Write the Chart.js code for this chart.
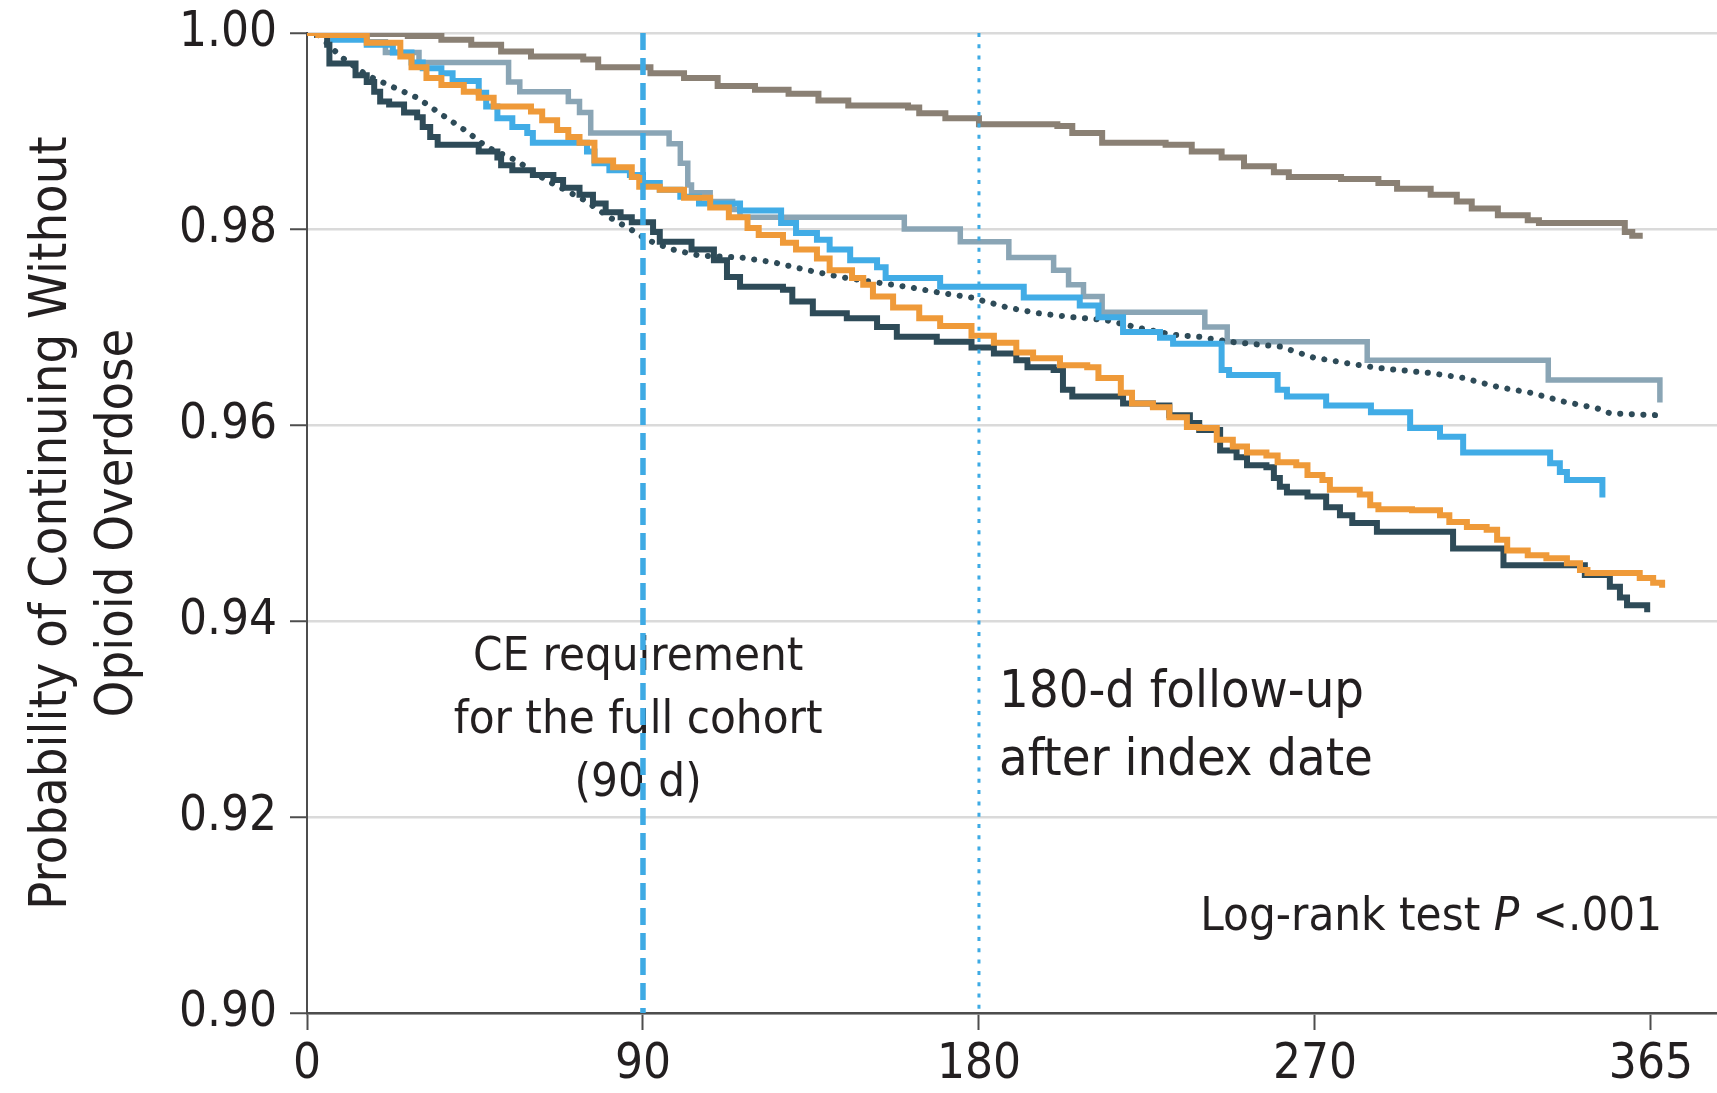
<!DOCTYPE html>
<html>
<head>
<meta charset="utf-8">
<script src="https://cdn.jsdelivr.net/npm/chart.js@4.4.1/dist/chart.umd.min.js"></script>
<style>
html,body{margin:0;padding:0;background:#ffffff;}
#wrap{width:1717px;height:1093px;}
</style>
</head>
<body>
<div id="wrap"><canvas id="c" width="1717" height="1093"></canvas></div>
<script>
// ---------------- data ----------------
const xTickDays   = [0, 90, 180, 270, 360];
const xTickLabels = ['0', '90', '180', '270', '365'];
const yTickValues = [0.90, 0.92, 0.94, 0.96, 0.98, 1.00];
const refLineDays = [90, 180];

const yTitleLines = ['Probability of Continuing Without', 'Opioid Overdose'];
const ceNoteLines = ['CE requirement', 'for the full cohort', '(90 d)'];
const fuNoteLines = ['180-d follow-up', 'after index date'];
const testNote    = ['Log-rank test ', 'P', ' <.001'];

const brownDays = [0, 14, 27, 36, 44, 52, 60, 74, 78, 92, 101, 110, 120, 129, 137, 145, 161, 164, 171, 180, 201, 205, 213, 230, 237, 245, 251, 259, 263, 277, 287, 292, 301, 308, 312, 319, 327, 330, 353, 355, 357];
const brownVals = [1.0, 0.9999, 0.9997, 0.9993, 0.9988, 0.9981, 0.9976, 0.9973, 0.9965, 0.9959, 0.9954, 0.9946, 0.9942, 0.9938, 0.9931, 0.9926, 0.9924, 0.9918, 0.9913, 0.9907, 0.9905, 0.9898, 0.9888, 0.9886, 0.9879, 0.9873, 0.9864, 0.9858, 0.9853, 0.9851, 0.9847, 0.9841, 0.9835, 0.9828, 0.9821, 0.9814, 0.9809, 0.9806, 0.9797, 0.9793, 0.9790];

const steelDays = [0, 16, 21, 30, 54, 57, 70, 73, 76, 97, 100, 102, 103, 108, 114, 116, 160, 175, 188, 200, 204, 208, 213, 240.5, 246.5, 284, 332.5, 362.4];
const steelVals = [1.0, 0.9991, 0.998, 0.997, 0.995, 0.994, 0.993, 0.9919, 0.9898, 0.9887, 0.9867, 0.9845, 0.9837, 0.9828, 0.982, 0.9812, 0.98, 0.9787, 0.9771, 0.9758, 0.9743, 0.9731, 0.9715, 0.970, 0.9685, 0.9666, 0.9646, 0.9623];

const blueDays = [0, 7, 16, 23, 28, 31, 36, 39, 46, 48, 51, 55, 59, 60.5, 75, 77, 81, 86.5, 90, 94.5, 100, 105, 116, 127, 131, 136.6, 140, 145.5, 152.7, 155, 169.6, 192, 207, 212, 218.6, 228.5, 232, 245, 247, 260, 262.5, 273, 285, 295.5, 303.5, 309.7, 333, 335.6, 337.5, 347];
const blueVals = [1.0, 0.9993, 0.9988, 0.998, 0.997, 0.9964, 0.9959, 0.9951, 0.9939, 0.9925, 0.9913, 0.9904, 0.9898, 0.9888, 0.9879, 0.9867, 0.986, 0.9855, 0.9847, 0.984, 0.9833, 0.9826, 0.9819, 0.9806, 0.9796, 0.9789, 0.9779, 0.9768, 0.9761, 0.975, 0.9741, 0.973, 0.9722, 0.971, 0.9695, 0.9689, 0.9683, 0.9656, 0.9651, 0.9636, 0.9629, 0.962, 0.9613, 0.9597, 0.9588, 0.9572, 0.9561, 0.9552, 0.9544, 0.9526];

const orangeDays = [0, 3, 16, 25, 28, 32, 36, 42, 46, 50, 60, 63, 67, 70, 73, 77, 82, 87, 89, 94.5, 101, 108, 113, 118, 121, 127.5, 131, 136.6, 140, 146, 149, 151.6, 157, 164, 169.6, 178, 184, 190, 194.5, 201.7, 209, 212, 218, 221, 226.6, 231, 235.7, 239, 243.7, 248, 251.8, 257, 260, 265, 268, 272, 274, 282, 284.8, 287, 296, 303.5, 306, 310.7, 316, 318.8, 321.5, 327, 332, 337.5, 341, 343, 357, 360.6, 363];
const orangeVals = [1.0, 0.9998, 0.999, 0.9976, 0.9965, 0.9954, 0.9947, 0.994, 0.9934, 0.9925, 0.992, 0.9911, 0.9901, 0.9894, 0.9888, 0.987, 0.9863, 0.9853, 0.9843, 0.984, 0.9832, 0.9822, 0.9812, 0.9801, 0.9794, 0.9786, 0.9779, 0.977, 0.9758, 0.975, 0.9743, 0.9731, 0.972, 0.9709, 0.9701, 0.9691, 0.9684, 0.9674, 0.9668, 0.9661, 0.9659, 0.9648, 0.9633, 0.9622, 0.9618, 0.9608, 0.9598, 0.9597, 0.9585, 0.9578, 0.9572, 0.9569, 0.9562, 0.9559, 0.9549, 0.9544, 0.9534, 0.9529, 0.9518, 0.9514, 0.9513, 0.9508, 0.9501, 0.9496, 0.9493, 0.9483, 0.9472, 0.9467, 0.9464, 0.9459, 0.9452, 0.9449, 0.9444, 0.9439, 0.9434];

const slateDays = [0, 2.7, 5.4, 6, 13, 16, 18, 19.6, 22, 26, 29.5, 31, 33, 35, 46, 51, 52, 55, 60.5, 66, 68.6, 73, 76.6, 80, 84, 87, 92.7, 94.5, 103, 109, 112.5, 116, 127.5, 130, 135.5, 144.6, 152.7, 158, 168.7, 178, 184, 190, 193, 200, 202.5, 205, 218.6, 226.6, 231, 236.5, 239, 244.6, 249, 251.8, 257, 259, 260.6, 262.5, 268, 273, 276.7, 280, 286.6, 307, 320.5, 342.3, 349, 351.7, 353.6, 359];
const slateVals = [1.0, 0.9998, 0.9988, 0.9969, 0.9957, 0.995, 0.994, 0.993, 0.9927, 0.9919, 0.9914, 0.9904, 0.9894, 0.9886, 0.9879, 0.9873, 0.9865, 0.986, 0.9855, 0.985, 0.9842, 0.9835, 0.9826, 0.9817, 0.9812, 0.9807, 0.9797, 0.9787, 0.9779, 0.9768, 0.9751, 0.9741, 0.9738, 0.9726, 0.9714, 0.9709, 0.97, 0.969, 0.9685, 0.9679, 0.9673, 0.9666, 0.9659, 0.9656, 0.9636, 0.9629, 0.9622, 0.962, 0.961, 0.9602, 0.9595, 0.9574, 0.9567, 0.9559, 0.9557, 0.9546, 0.9537, 0.9531, 0.9527, 0.9516, 0.9508, 0.95, 0.9491, 0.9474, 0.9457, 0.9447, 0.9435, 0.9424, 0.9416, 0.9409];

const dottedDays = [0, 3, 9, 16, 23, 29.5, 35.6, 43, 48, 56, 64, 74, 81, 87, 91, 98, 105, 116, 125, 134, 143, 151.6, 160.7, 169.6, 178, 187.5, 196, 205, 214, 223, 232, 239, 247, 260.6, 269.5, 278.6, 287.4, 301, 309.7, 318.8, 327.6, 336.5, 345.6, 349, 361.6];
const dottedVals = [1.0, 0.9998, 0.9976, 0.9957, 0.9945, 0.9934, 0.9918, 0.9899, 0.9884, 0.987, 0.985, 0.983, 0.9812, 0.9799, 0.9789, 0.9779, 0.9773, 0.9771, 0.9766, 0.9758, 0.9751, 0.9746, 0.9741, 0.9735, 0.973, 0.972, 0.9714, 0.971, 0.9707, 0.9699, 0.9692, 0.969, 0.9685, 0.968, 0.9669, 0.9663, 0.9658, 0.9653, 0.9648, 0.9639, 0.9633, 0.9624, 0.9617, 0.9612, 0.961];

// ---------------- styling ----------------
const FONT = "'DejaVu Sans Condensed', 'Liberation Sans Narrow', 'DejaVu Sans', sans-serif";
const TEXT = '#231f20';
const AXIS = '#4d4d4d';

function pts(days, vals) { return days.map((d, i) => ({x: d, y: vals[i]})); }
function stepSet(days, vals, color, width) {
  return { data: pts(days, vals), borderColor: color, borderWidth: width, stepped: 'before',
           pointRadius: 0, fill: false, borderJoinStyle: 'miter', borderCapStyle: 'butt' };
}

const datasets = [
  stepSet(orangeDays, orangeVals, '#ef9a39', 6),
  stepSet(slateDays, slateVals, '#2e4b58', 6),
  stepSet(blueDays, blueVals, '#41ace6', 6),
  { data: pts(dottedDays, dottedVals), borderColor: '#2e4b58', borderWidth: 6, borderDash: [0.1, 11.5],
    borderCapStyle: 'round', pointRadius: 0, fill: false, tension: 0 },
  stepSet(steelDays, steelVals, '#8aa5b5', 5.5),
  stepSet(brownDays, brownVals, '#8a8074', 6)
];

const notesPlugin = {
  id: 'notes',
  afterDatasetsDraw(chart) {
    const {ctx, chartArea, scales: {x, y}} = chart;
    ctx.save();
    ctx.fillStyle = TEXT;
    ctx.textBaseline = 'alphabetic';
    ctx.font = "47px " + FONT;
    ctx.textAlign = 'center';
    const ceX = x.getPixelForValue(88.7);
    const ceBase = [0.9350, 0.92857, 0.92214];
    ceNoteLines.forEach((t, i) => ctx.fillText(t, ceX, y.getPixelForValue(ceBase[i])));
    ctx.font = "52px " + FONT;
    ctx.textAlign = 'left';
    const fuX = x.getPixelForValue(185.4);
    const fuBase = [0.93122, 0.92429];
    fuNoteLines.forEach((t, i) => ctx.fillText(t, fuX, y.getPixelForValue(fuBase[i])));
    const fN = "47px " + FONT, fI = "italic 47px " + FONT;
    ctx.font = fN; const w0 = ctx.measureText(testNote[0]).width, w2 = ctx.measureText(testNote[2]).width;
    ctx.font = fI; const w1 = ctx.measureText(testNote[1]).width;
    let tx = x.getPixelForValue(363) - (w0 + w1 + w2);
    const ty = y.getPixelForValue(0.90847);
    ctx.font = fN; ctx.fillText(testNote[0], tx, ty); tx += w0;
    ctx.font = fI; ctx.fillText(testNote[1], tx, ty); tx += w1;
    ctx.font = fN; ctx.fillText(testNote[2], tx, ty);

    ctx.strokeStyle = '#3eaae4';
    ctx.lineCap = 'butt';
    ctx.lineWidth = 5.5; ctx.setLineDash([17, 8]);
    let px = x.getPixelForValue(refLineDays[0]);
    ctx.beginPath(); ctx.moveTo(px, chartArea.top); ctx.lineTo(px, chartArea.bottom); ctx.stroke();
    ctx.lineWidth = 3; ctx.setLineDash([4, 7.3]);
    px = x.getPixelForValue(refLineDays[1]);
    ctx.beginPath(); ctx.moveTo(px, chartArea.top); ctx.lineTo(px, chartArea.bottom); ctx.stroke();
    ctx.restore();
  }
};

new Chart(document.getElementById('c'), {
  type: 'line',
  data: { datasets },
  plugins: [notesPlugin],
  options: {
    responsive: false,
    animation: false,
    devicePixelRatio: 1,
    layout: { padding: { top: 33, right: 0, bottom: 0, left: 0 } },
    plugins: { legend: { display: false }, tooltip: { enabled: false } },
    scales: {
      x: {
        type: 'linear', min: 0, max: 377.7,
        afterBuildTicks(s) { s.ticks = xTickDays.map(v => ({ value: v })); },
        afterFit(s) { s.height = 80; s.paddingLeft = 0; s.paddingRight = 0; },
        ticks: { callback: (v, i) => xTickLabels[i], font: { family: FONT, size: 49 }, color: TEXT, padding: 6, maxRotation: 0, autoSkip: false },
        grid: { drawOnChartArea: false, drawTicks: true, tickLength: 17, tickColor: AXIS, tickWidth: 2 },
        border: { color: AXIS, width: 2.5 }
      },
      y: {
        type: 'linear', min: 0.90, max: 1.00,
        afterBuildTicks(s) { s.ticks = yTickValues.map(v => ({ value: v })); },
        afterFit(s) { s.width = 307; s.paddingTop = 0; s.paddingBottom = 0; },
        ticks: { callback: v => v.toFixed(2), font: { family: FONT, size: 49 }, color: TEXT, padding: 13, autoSkip: false },
        grid: { color: '#dadada', lineWidth: 2.5, tickLength: 17, tickColor: AXIS, tickWidth: 2 },
        border: { color: AXIS, width: 2 },
        title: { display: true, text: yTitleLines, color: TEXT, font: { family: FONT, size: 52, lineHeight: '66px' }, padding: { top: 19, bottom: 0 } }
      }
    }
  }
});
</script>
</body>
</html>
